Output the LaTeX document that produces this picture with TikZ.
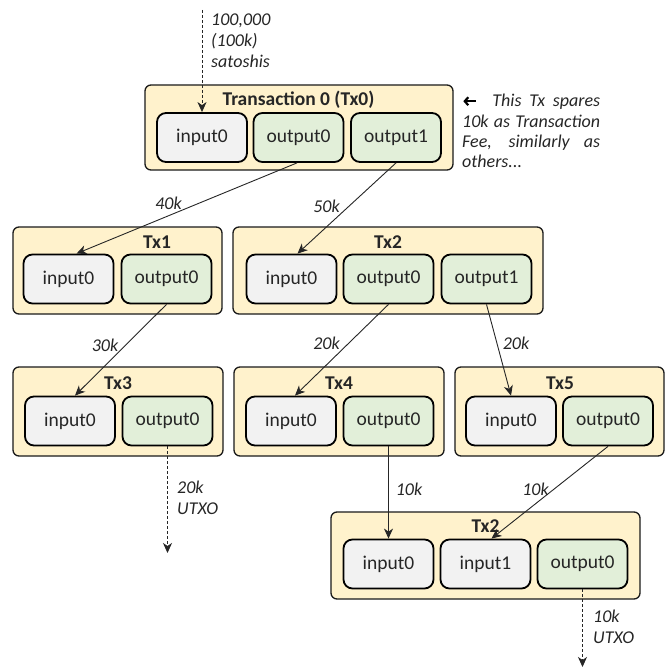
\documentclass[tikz,border=0pt]{standalone}
\usepackage{fontspec}
\setmainfont{Carlito}
\usetikzlibrary{arrows.meta}
\definecolor{txfill}{HTML}{FFF2CC}
\definecolor{infill}{HTML}{F2F2F2}
\definecolor{outfill}{HTML}{E2EFD9}
\definecolor{txt}{HTML}{262626}
\definecolor{boxline}{HTML}{1A1A1A}
\definecolor{arrowc}{HTML}{262626}
\tikzset{
  txbox/.style={draw=boxline, fill=txfill, line width=1.3pt, rounded corners=6pt, inner sep=0pt},
  inbox/.style={draw=black, fill=infill, line width=1.8pt, rounded corners=9pt,
    minimum width=90pt, minimum height=49pt, inner sep=0pt,
    font=\fontsize{19.5}{22}\selectfont, text=txt},
  outbox/.style={inbox, fill=outfill},
  txtitle/.style={font=\bfseries\fontsize{19.5}{22}\selectfont, text=txt, inner sep=0pt},
  lbl/.style={font=\itshape\fontsize{18}{21}\selectfont, text=txt, inner sep=0pt, align=left},
  flow/.style={draw=arrowc, line width=0.9pt, -{Stealth[length=10pt,width=9pt,inset=3pt]}},
  loose/.style={flow, dash pattern=on 3pt off 2pt},
}
% bold left arrow used inside the fee note
\newcommand{\feearrow}{\tikz[x=1pt,y=1pt,baseline=-5.5pt]
  \draw[black, line width=2.2pt, -{Straight Barb[length=3.5pt,width=8pt]}] (13,0) -- (0.5,0);}
\begin{document}
\begin{tikzpicture}[x=1pt, y=-1pt]
\useasboundingbox[fill=white] (0,0) rectangle (670,669);

% transaction frames
\node[txbox, minimum width=308pt, minimum height=85pt] (tx0) at (299,127.5) {};
\node[txbox, minimum width=209pt, minimum height=87pt] (tx1) at (117.5,270.5) {};
\node[txbox, minimum width=310pt, minimum height=87pt] (tx2) at (388,270.5) {};
\node[txbox, minimum width=210pt, minimum height=89pt] (tx3) at (118,411.5) {};
\node[txbox, minimum width=210pt, minimum height=89pt] (tx4) at (339,411.5) {};
\node[txbox, minimum width=209pt, minimum height=89pt] (tx5) at (559.5,411.5) {};
\node[txbox, minimum width=309pt, minimum height=87pt] (txb) at (485.5,555.5) {};

% titles
\node[txtitle] (h0) at (298.5,100) {Transaction 0 (Tx0)};
\node[txtitle] (h1) at (157,242) {Tx1};
\node[txtitle] (h2) at (388,242) {Tx2};
\node[txtitle] (h3) at (118,383) {Tx3};
\node[txtitle] (h4) at (339,383) {Tx4};
\node[txtitle] (h5) at (560,383) {Tx5};
\node[txtitle] (hb) at (485.5,526) {Tx2};

% inputs and outputs
\node[inbox]  (t0i0) at (202,137.5) {input0};
\node[outbox] (t0o0) at (298.5,137.5) {output0};
\node[outbox] (t0o1) at (396,137.5) {output1};

\node[inbox]  (t1i0) at (68.5,279) {input0};
\node[outbox] (t1o0) at (166.5,279) {output0};

\node[inbox]  (t2i0) at (291.5,279) {input0};
\node[outbox] (t2o0) at (388.5,279) {output0};
\node[outbox] (t2o1) at (486.5,279) {output1};

\node[inbox]  (t3i0) at (70,421) {input0};
\node[outbox] (t3o0) at (167.5,421) {output0};

\node[inbox]  (t4i0) at (291,421) {input0};
\node[outbox] (t4o0) at (388.5,421) {output0};

\node[inbox]  (t5i0) at (511,421) {input0};
\node[outbox] (t5o0) at (608,421) {output0};

\node[inbox]  (tbi0) at (388.5,564) {input0};
\node[inbox]  (tbi1) at (485.5,564) {input1};
\node[outbox] (tbo0) at (582.5,564) {output0};

% free ends of the dashed flows
\coordinate (src) at (202,10);
\coordinate (utxoA) at (167.5,553);
\coordinate (utxoB) at (582.5,667);

% flows of value
\draw[loose] (src) -- (t0i0.north);
\draw[flow] ([xshift=-1.5pt]t0o0.south) -- ([xshift=8pt]t1i0.north);
\draw[flow] (t0o1.south) -- ([xshift=6pt]t2i0.north);
\draw[flow] (t1o0.south) -- ([xshift=5pt]t3i0.north);
\draw[flow] (t2o0.south) -- ([xshift=4pt]t4i0.north);
\draw[flow] (t2o1.south) -- (t5i0.north);
\draw[flow] (t4o0.south) -- (tbi0.north);
\draw[flow] (t5o0.south) -- ([xshift=6pt]tbi1.north);
\draw[loose] (t3o0.south) -- (utxoA);
\draw[loose] (tbo0.south) -- (utxoB);

% amounts
\node[lbl, anchor=west] (lsrc) at (211,41) {100,000\\(100k)\\satoshis};
\node[lbl] (l40) at (168.5,203) {40k};
\node[lbl] (l50) at (326.5,206) {50k};
\node[lbl] (l30) at (105,345) {30k};
\node[lbl] (l20a) at (326.5,343) {20k};
\node[lbl] (l20b) at (516,343) {20k};
\node[lbl] (l10a) at (409,489) {10k};
\node[lbl] (l10b) at (535.5,489) {10k};
\node[lbl, anchor=west] (lua) at (177,498) {20k\\UTXO};
\node[lbl, anchor=west] (lub) at (593,627) {10k\\UTXO};

% note on the fee
\node[lbl, anchor=west, font=\itshape\fontsize{18}{20.3}\selectfont] (fee) at (462,131)
  {\makebox[138pt][s]{\feearrow\ \ This Tx spares}\\
   \makebox[138pt][s]{10k as Transaction}\\
   \makebox[138pt][s]{Fee, similarly as}\\
   others...};
\end{tikzpicture}
\end{document}
